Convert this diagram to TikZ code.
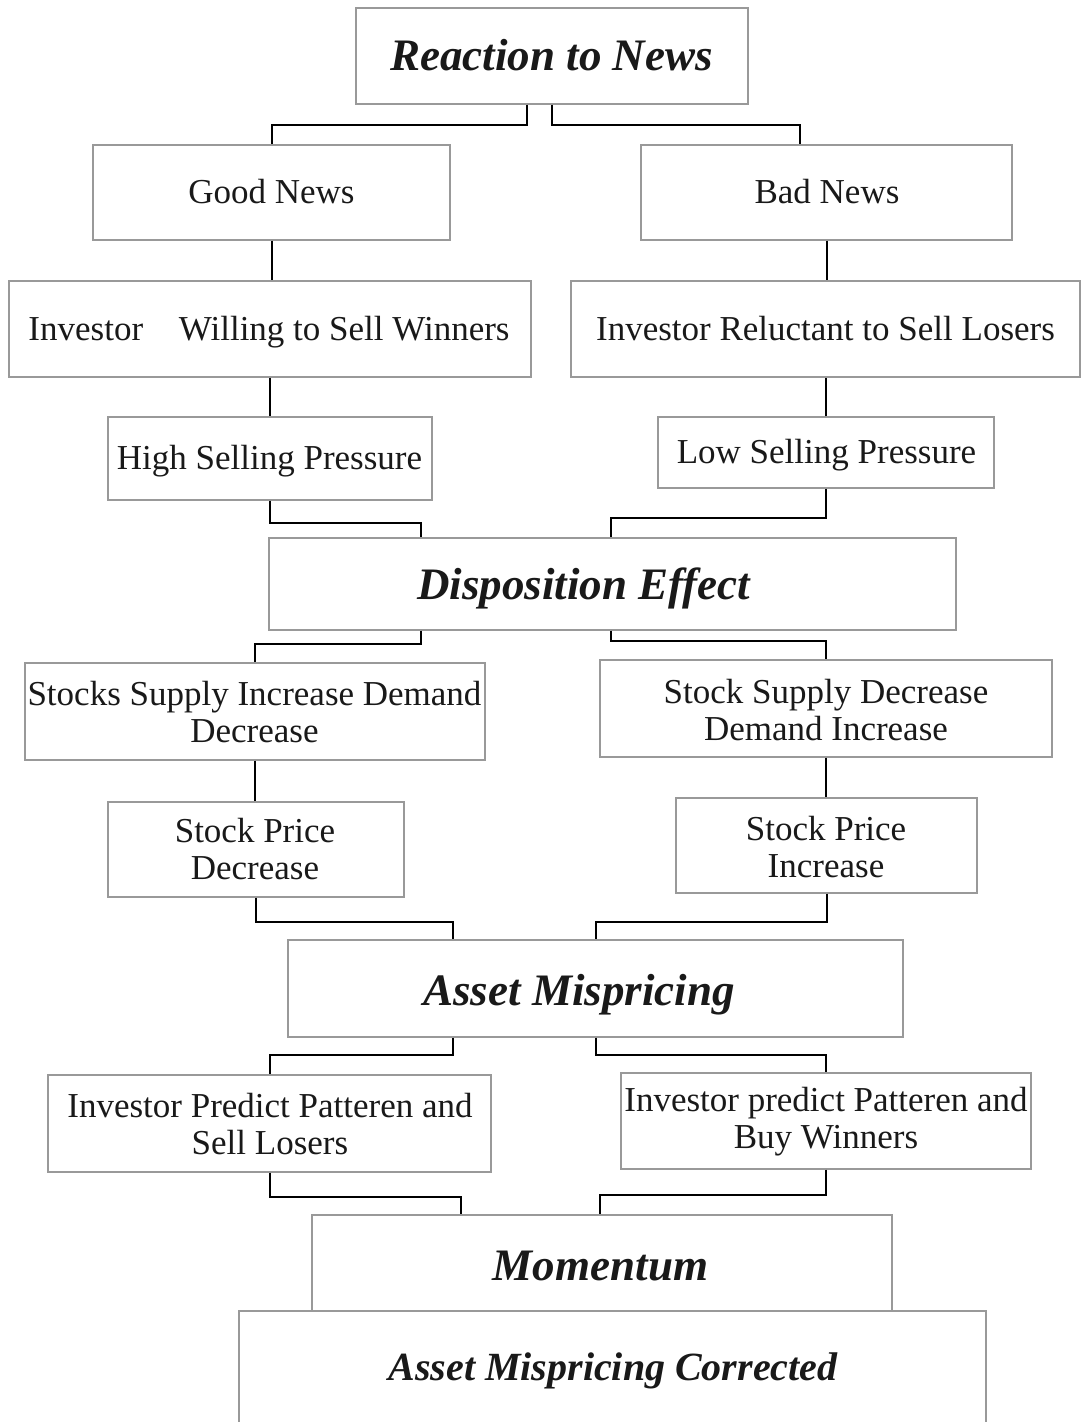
\documentclass[tikz,border=0pt]{standalone}
\usepackage{fontspec}
\setmainfont{Liberation Serif}
\begin{document}
\begin{tikzpicture}[x=1pt,y=-1pt,
  box/.style={draw=black!40,line width=1.1pt,rectangle,inner sep=0pt},
  txt/.style={font=\fontsize{35}{37}\selectfont,align=center,inner sep=0pt,text=black!90},
  one/.style={txt,text height=23pt,text depth=0pt},
  ttl/.style={font=\fontsize{45}{48}\selectfont\bfseries\itshape,inner sep=0pt,text=black!90,text height=30pt,text depth=0pt},
  conn/.style={draw=black,line width=2pt}]
\useasboundingbox (0,0) rectangle (1082,1422);
\fill[white] (0,0) rectangle (1082,1422);
\clip (0,0) rectangle (1082,1422);
% boxes
\node[box,minimum width=392pt,minimum height=96pt] (rn) at (552,56) {};
\node[box,minimum width=357pt,minimum height=95pt] (gn) at (271.5,192.5) {};
\node[box,minimum width=371pt,minimum height=95pt] (bn) at (826.5,192.5) {};
\node[box,minimum width=522pt,minimum height=96pt] (iw) at (270,329) {};
\node[box,minimum width=509pt,minimum height=96pt] (ir) at (825.5,329) {};
\node[box,minimum width=324pt,minimum height=83pt] (hs) at (270,458.5) {};
\node[box,minimum width=336pt,minimum height=71pt] (ls) at (826,452.5) {};
\node[box,minimum width=687pt,minimum height=92pt] (de) at (612.5,584) {};
\node[box,minimum width=460pt,minimum height=97pt] (ssi) at (255,711.5) {};
\node[box,minimum width=452pt,minimum height=97pt] (ssd) at (826,708.5) {};
\node[box,minimum width=296pt,minimum height=95pt] (spd) at (256,849.5) {};
\node[box,minimum width=301pt,minimum height=95pt] (spi) at (826.5,845.5) {};
\node[box,minimum width=615pt,minimum height=97pt] (am) at (595.5,988.5) {};
\node[box,minimum width=443pt,minimum height=97pt] (psl) at (269.5,1123.5) {};
\node[box,minimum width=410pt,minimum height=96pt] (pbw) at (826,1121) {};
\node[box,minimum width=747pt,minimum height=119pt] (amc) at (612.5,1370.5) {};
\node[box,minimum width=580pt,minimum height=96pt] (mo) at (602,1263) {};
% texts
\node[ttl] (rnT) at (551.5,55) {Reaction to News};
\node[one] (gnT) at (271.5,192) {Good News};
\node[one] (bnT) at (827,192) {Bad News};
\node[one] (iwT) at (269,329) {Investor\hspace{27pt} Willing to Sell Winners};
\node[one] (irT) at (825.5,329) {Investor Reluctant to Sell Losers};
\node[one] (hsT) at (269.5,458) {High Selling Pressure};
\node[one] (lsT) at (826.5,452) {Low Selling Pressure};
\node[ttl] (deT) at (583.5,584) {Disposition Effect};
\node[txt] (ssiT) at (254.5,712) {Stocks Supply Increase Demand\\Decrease};
\node[txt] (ssdT) at (826,710) {Stock Supply Decrease\\Demand Increase};
\node[txt] (spdT) at (255,849) {Stock Price\\Decrease};
\node[txt] (spiT) at (826,847) {Stock Price\\Increase};
\node[ttl] (amT) at (579,990) {Asset Mispricing};
\node[txt] (pslT) at (270,1124) {Investor Predict Patteren and\\Sell Losers};
\node[txt] (pbwT) at (826,1122) {Investor predict Patteren and\\Buy Winners};
\node[ttl] (moT) at (600.5,1265) {Momentum};
\node[ttl,font=\fontsize{40}{44}\selectfont\bfseries\itshape,text height=26.5pt] (amcT) at (613,1367) {Asset Mispricing Corrected};
% connectors
\draw[conn] ([xshift=-25pt]rn.south) -- ++(0,20) -| (gn.north);
\draw[conn] (rn.south) -- ++(0,20) -| ([xshift=-26.5pt]bn.north);
\draw[conn] (gn.south) -- (gn.south |- iw.north);
\draw[conn] (bn.south) -- (bn.south |- ir.north);
\draw[conn] (iw.south) -- (iw.south |- hs.north);
\draw[conn] (ls.north -| ir.south) -- (ir.south);
\draw[conn] (hs.south) -- ++(0,22) -| ([xshift=-191.5pt]de.north);
\draw[conn] (ls.south) -- ++(0,29) -| ([xshift=-1.5pt]de.north);
\draw[conn] ([xshift=-191.5pt]de.south) -- ++(0,13) -| (ssi.north);
\draw[conn] ([xshift=-1.5pt]de.south) -- ++(0,10) -| (ssd.north);
\draw[conn] (ssi.south) -- (ssi.south |- spd.north);
\draw[conn] (ssd.south) -- (ssd.south |- spi.north);
\draw[conn] (spd.south) -- ++(0,24) -| ([xshift=-142.5pt]am.north);
\draw[conn] (spi.south) -- ++(0,28) -| (am.north);
\draw[conn] ([xshift=-142.5pt]am.south) -- ++(0,17) -| (psl.north);
\draw[conn] (am.south) -- ++(0,17) -| (pbw.north);
\draw[conn] (psl.south) -- ++(0,24) -| ([xshift=-141pt]mo.north);
\draw[conn] (pbw.south) -- ++(0,25) -| ([xshift=-2pt]mo.north);
\end{tikzpicture}
\end{document}
